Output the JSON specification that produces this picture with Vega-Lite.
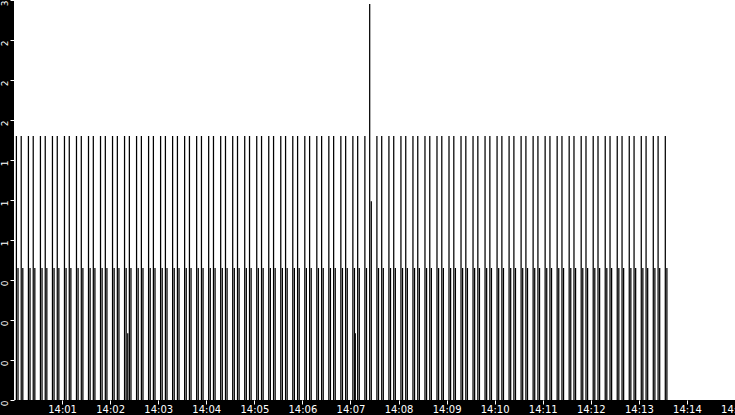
{
  "$schema": "https://vega.github.io/schema/vega-lite/v6.json",
  "width": 721,
  "height": 400,
  "autosize": "none",
  "padding": {"left": 14, "top": 0, "right": 0, "bottom": 15},
  "background": "black",
  "data": {
    "format": {"parse": {"t": "utc:'%H:%M:%S'"}},
    "values": [
      {"t":"14:00:03","v":1.98},{"t":"14:00:05","v":0.99},{"t":"14:00:09","v":1.98},{"t":"14:00:11","v":0.99},{"t":"14:00:18","v":1.98},{"t":"14:00:20","v":0.99},{"t":"14:00:24","v":1.98},{"t":"14:00:26","v":0.99},{"t":"14:00:33","v":1.98},{"t":"14:00:35","v":0.99},{"t":"14:00:39","v":1.98},{"t":"14:00:41","v":0.99},{"t":"14:00:48","v":1.98},{"t":"14:00:50","v":0.99},{"t":"14:00:54","v":1.98},{"t":"14:00:56","v":0.99},
      {"t":"14:01:03","v":1.98},{"t":"14:01:05","v":0.99},{"t":"14:01:09","v":1.98},{"t":"14:01:11","v":0.99},{"t":"14:01:18","v":1.98},{"t":"14:01:20","v":0.99},{"t":"14:01:24","v":1.98},{"t":"14:01:26","v":0.99},{"t":"14:01:33","v":1.98},{"t":"14:01:35","v":0.99},{"t":"14:01:39","v":1.98},{"t":"14:01:41","v":0.99},{"t":"14:01:48","v":1.98},{"t":"14:01:50","v":0.99},{"t":"14:01:54","v":1.98},{"t":"14:01:56","v":0.99},
      {"t":"14:02:03","v":1.98},{"t":"14:02:05","v":0.99},{"t":"14:02:09","v":1.98},{"t":"14:02:11","v":0.99},{"t":"14:02:18","v":1.98},{"t":"14:02:20","v":0.99},{"t":"14:02:22","v":0.5},{"t":"14:02:24","v":1.98},{"t":"14:02:26","v":0.99},{"t":"14:02:33","v":1.98},{"t":"14:02:35","v":0.99},{"t":"14:02:39","v":1.98},{"t":"14:02:41","v":0.99},{"t":"14:02:48","v":1.98},{"t":"14:02:50","v":0.99},{"t":"14:02:54","v":1.98},{"t":"14:02:56","v":0.99},
      {"t":"14:03:03","v":1.98},{"t":"14:03:05","v":0.99},{"t":"14:03:09","v":1.98},{"t":"14:03:11","v":0.99},{"t":"14:03:18","v":1.98},{"t":"14:03:20","v":0.99},{"t":"14:03:24","v":1.98},{"t":"14:03:26","v":0.99},{"t":"14:03:33","v":1.98},{"t":"14:03:35","v":0.99},{"t":"14:03:39","v":1.98},{"t":"14:03:41","v":0.99},{"t":"14:03:48","v":1.98},{"t":"14:03:50","v":0.99},{"t":"14:03:54","v":1.98},{"t":"14:03:56","v":0.99},
      {"t":"14:04:03","v":1.98},{"t":"14:04:05","v":0.99},{"t":"14:04:09","v":1.98},{"t":"14:04:11","v":0.99},{"t":"14:04:18","v":1.98},{"t":"14:04:20","v":0.99},{"t":"14:04:24","v":1.98},{"t":"14:04:26","v":0.99},{"t":"14:04:33","v":1.98},{"t":"14:04:35","v":0.99},{"t":"14:04:39","v":1.98},{"t":"14:04:41","v":0.99},{"t":"14:04:48","v":1.98},{"t":"14:04:50","v":0.99},{"t":"14:04:54","v":1.98},{"t":"14:04:56","v":0.99},
      {"t":"14:05:03","v":1.98},{"t":"14:05:05","v":0.99},{"t":"14:05:09","v":1.98},{"t":"14:05:11","v":0.99},{"t":"14:05:18","v":1.98},{"t":"14:05:20","v":0.99},{"t":"14:05:24","v":1.98},{"t":"14:05:26","v":0.99},{"t":"14:05:33","v":1.98},{"t":"14:05:35","v":0.99},{"t":"14:05:39","v":1.98},{"t":"14:05:41","v":0.99},{"t":"14:05:48","v":1.98},{"t":"14:05:50","v":0.99},{"t":"14:05:54","v":1.98},{"t":"14:05:56","v":0.99},
      {"t":"14:06:03","v":1.98},{"t":"14:06:05","v":0.99},{"t":"14:06:09","v":1.98},{"t":"14:06:11","v":0.99},{"t":"14:06:18","v":1.98},{"t":"14:06:20","v":0.99},{"t":"14:06:24","v":1.98},{"t":"14:06:26","v":0.99},{"t":"14:06:33","v":1.98},{"t":"14:06:35","v":0.99},{"t":"14:06:39","v":1.98},{"t":"14:06:41","v":0.99},{"t":"14:06:48","v":1.98},{"t":"14:06:50","v":0.99},{"t":"14:06:54","v":1.98},{"t":"14:06:56","v":0.99},
      {"t":"14:07:03","v":1.98},{"t":"14:07:05","v":0.99},{"t":"14:07:06","v":0.5},{"t":"14:07:09","v":1.98},{"t":"14:07:11","v":0.99},{"t":"14:07:18","v":1.98},{"t":"14:07:20","v":0.99},{"t":"14:07:24","v":2.97},{"t":"14:07:26","v":1.49},{"t":"14:07:33","v":1.98},{"t":"14:07:35","v":0.99},{"t":"14:07:39","v":1.98},{"t":"14:07:41","v":0.99},{"t":"14:07:48","v":1.98},{"t":"14:07:50","v":0.99},{"t":"14:07:54","v":1.98},{"t":"14:07:56","v":0.99},
      {"t":"14:08:03","v":1.98},{"t":"14:08:05","v":0.99},{"t":"14:08:09","v":1.98},{"t":"14:08:11","v":0.99},{"t":"14:08:18","v":1.98},{"t":"14:08:20","v":0.99},{"t":"14:08:24","v":1.98},{"t":"14:08:26","v":0.99},{"t":"14:08:33","v":1.98},{"t":"14:08:35","v":0.99},{"t":"14:08:39","v":1.98},{"t":"14:08:41","v":0.99},{"t":"14:08:48","v":1.98},{"t":"14:08:50","v":0.99},{"t":"14:08:54","v":1.98},{"t":"14:08:56","v":0.99},
      {"t":"14:09:03","v":1.98},{"t":"14:09:05","v":0.99},{"t":"14:09:09","v":1.98},{"t":"14:09:11","v":0.99},{"t":"14:09:18","v":1.98},{"t":"14:09:20","v":0.99},{"t":"14:09:24","v":1.98},{"t":"14:09:26","v":0.99},{"t":"14:09:33","v":1.98},{"t":"14:09:35","v":0.99},{"t":"14:09:39","v":1.98},{"t":"14:09:41","v":0.99},{"t":"14:09:48","v":1.98},{"t":"14:09:50","v":0.99},{"t":"14:09:54","v":1.98},{"t":"14:09:56","v":0.99},
      {"t":"14:10:03","v":1.98},{"t":"14:10:05","v":0.99},{"t":"14:10:09","v":1.98},{"t":"14:10:11","v":0.99},{"t":"14:10:18","v":1.98},{"t":"14:10:20","v":0.99},{"t":"14:10:24","v":1.98},{"t":"14:10:26","v":0.99},{"t":"14:10:33","v":1.98},{"t":"14:10:35","v":0.99},{"t":"14:10:39","v":1.98},{"t":"14:10:41","v":0.99},{"t":"14:10:48","v":1.98},{"t":"14:10:50","v":0.99},{"t":"14:10:54","v":1.98},{"t":"14:10:56","v":0.99},
      {"t":"14:11:03","v":1.98},{"t":"14:11:05","v":0.99},{"t":"14:11:09","v":1.98},{"t":"14:11:11","v":0.99},{"t":"14:11:18","v":1.98},{"t":"14:11:20","v":0.99},{"t":"14:11:24","v":1.98},{"t":"14:11:26","v":0.99},{"t":"14:11:33","v":1.98},{"t":"14:11:35","v":0.99},{"t":"14:11:39","v":1.98},{"t":"14:11:41","v":0.99},{"t":"14:11:48","v":1.98},{"t":"14:11:50","v":0.99},{"t":"14:11:54","v":1.98},{"t":"14:11:56","v":0.99},
      {"t":"14:12:03","v":1.98},{"t":"14:12:05","v":0.99},{"t":"14:12:09","v":1.98},{"t":"14:12:11","v":0.99},{"t":"14:12:18","v":1.98},{"t":"14:12:20","v":0.99},{"t":"14:12:24","v":1.98},{"t":"14:12:26","v":0.99},{"t":"14:12:33","v":1.98},{"t":"14:12:35","v":0.99},{"t":"14:12:39","v":1.98},{"t":"14:12:41","v":0.99},{"t":"14:12:48","v":1.98},{"t":"14:12:50","v":0.99},{"t":"14:12:54","v":1.98},{"t":"14:12:56","v":0.99},
      {"t":"14:13:03","v":1.98},{"t":"14:13:05","v":0.99},{"t":"14:13:09","v":1.98},{"t":"14:13:11","v":0.99},{"t":"14:13:18","v":1.98},{"t":"14:13:20","v":0.99},{"t":"14:13:24","v":1.98},{"t":"14:13:26","v":0.99},{"t":"14:13:33","v":1.98},{"t":"14:13:35","v":0.99}
    ]
  },
  "mark": {"type": "rule", "color": "black", "strokeWidth": 1.25},
  "encoding": {
    "x": {
      "field": "t",
      "type": "temporal",
      "scale": {
        "type": "utc",
        "domain": [
          {"year": 1900, "month": 1, "date": 1, "hours": 14, "minutes": 0, "utc": true},
          {"year": 1900, "month": 1, "date": 1, "hours": 14, "minutes": 15, "utc": true}
        ]
      },
      "axis": {
        "title": null,
        "format": "%H:%M",
        "values": [
          {"year": 1900, "month": 1, "date": 1, "hours": 14, "minutes": 1, "utc": true},
          {"year": 1900, "month": 1, "date": 1, "hours": 14, "minutes": 2, "utc": true},
          {"year": 1900, "month": 1, "date": 1, "hours": 14, "minutes": 3, "utc": true},
          {"year": 1900, "month": 1, "date": 1, "hours": 14, "minutes": 4, "utc": true},
          {"year": 1900, "month": 1, "date": 1, "hours": 14, "minutes": 5, "utc": true},
          {"year": 1900, "month": 1, "date": 1, "hours": 14, "minutes": 6, "utc": true},
          {"year": 1900, "month": 1, "date": 1, "hours": 14, "minutes": 7, "utc": true},
          {"year": 1900, "month": 1, "date": 1, "hours": 14, "minutes": 8, "utc": true},
          {"year": 1900, "month": 1, "date": 1, "hours": 14, "minutes": 9, "utc": true},
          {"year": 1900, "month": 1, "date": 1, "hours": 14, "minutes": 10, "utc": true},
          {"year": 1900, "month": 1, "date": 1, "hours": 14, "minutes": 11, "utc": true},
          {"year": 1900, "month": 1, "date": 1, "hours": 14, "minutes": 12, "utc": true},
          {"year": 1900, "month": 1, "date": 1, "hours": 14, "minutes": 13, "utc": true},
          {"year": 1900, "month": 1, "date": 1, "hours": 14, "minutes": 14, "utc": true},
          {"year": 1900, "month": 1, "date": 1, "hours": 14, "minutes": 15, "utc": true}
        ],
        "domain": false,
        "grid": false,
        "tickColor": "white",
        "tickSize": 4,
        "labelColor": "white",
        "labelFont": "DejaVu Sans",
        "labelFontSize": 10,
        "labelPadding": 0,
        "labelOverlap": false,
        "labelFlush": false,
        "labelBound": false
      }
    },
    "y": {
      "field": "v",
      "type": "quantitative",
      "scale": {"domain": [0, 3], "nice": false},
      "axis": {
        "title": null,
        "values": [0, 0.3, 0.6, 0.9, 1.2, 1.5, 1.8, 2.1, 2.4, 2.7, 3],
        "labelExpr": "'' + floor(datum.value)",
        "domain": false,
        "grid": false,
        "tickColor": "white",
        "tickSize": 4,
        "labelColor": "white",
        "labelFont": "DejaVu Sans",
        "labelFontSize": 9,
        "labelAngle": 270,
        "labelAlign": "right",
        "labelBaseline": "bottom",
        "labelPadding": 1,
        "labelOverlap": false,
        "labelFlush": false,
        "labelBound": false
      }
    },
    "y2": {"datum": 0}
  },
  "config": {
    "view": {"fill": "white", "stroke": null}
  }
}
